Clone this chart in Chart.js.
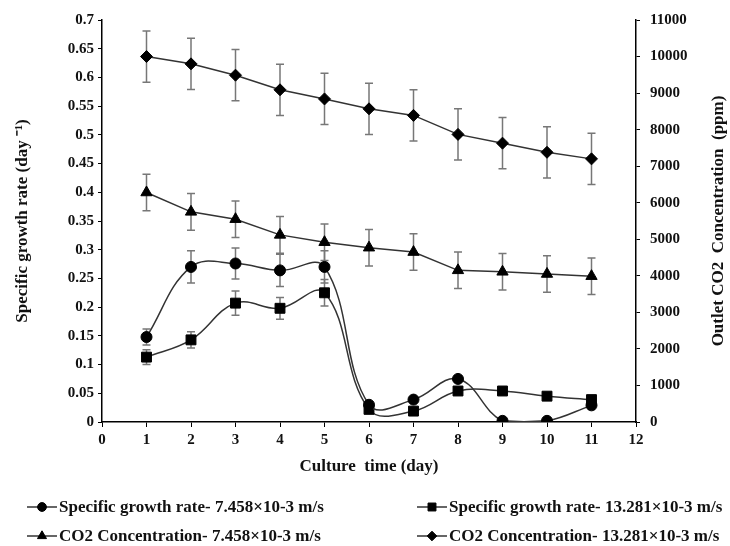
<!DOCTYPE html>
<html>
<head>
<meta charset="utf-8">
<script src="https://cdn.jsdelivr.net/npm/chart.js@4.4.1/dist/chart.umd.min.js"></script>
<style>
  body { margin: 0; background: #fff; }
  #wrap { width: 730px; height: 546px; }
</style>
</head>
<body>
<div id="wrap"><canvas id="growthChart" width="730" height="546"></canvas></div>
<script>
// culture days
const days = [1, 2, 3, 4, 5, 6, 7, 8, 9, 10, 11];

// specific growth rate (day -1)
const growthLow = [0.148, 0.270, 0.276, 0.264, 0.270, 0.030, 0.039, 0.075, 0.002, 0.002, 0.029];
const growthLowErr = [0.014, 0.028, 0.027, 0.028, 0.028, 0, 0, 0, 0, 0, 0];
const growthHigh = [0.113, 0.143, 0.207, 0.198, 0.225, 0.022, 0.019, 0.054, 0.054, 0.045, 0.039];
const growthHighErr = [0.013, 0.014, 0.021, 0.019, 0.023, 0, 0, 0, 0, 0, 0];

// outlet CO2 (ppm)
const co2Low = [6280, 5750, 5550, 5120, 4920, 4770, 4650, 4150, 4110, 4050, 3990];
const co2LowErr = [500, 500, 500, 500, 500, 500, 500, 500, 500, 500, 500];
const co2High = [10000, 9800, 9490, 9090, 8840, 8570, 8390, 7870, 7630, 7380, 7200];
const co2HighErr = [700, 700, 700, 700, 700, 700, 700, 700, 700, 700, 700];

const seriesLabels = [
    "Specific growth rate- 7.458\u00d710-3 m/s",
    "Specific growth rate- 13.281\u00d710-3 m/s",
    "CO2 Concentration- 7.458\u00d710-3 m/s",
    "CO2 Concentration- 13.281\u00d710-3 m/s"
];

const serif = "'Liberation Serif', 'Times New Roman', serif";
const lineColor = "#333";

function toPoints(values) {
    return days.map((d, i) => ({ x: d, y: values[i] }));
}

// error bars drawn under the markers
const errorBars = {
    id: "errorBars",
    beforeDatasetsDraw(chart) {
        const ctx = chart.ctx;
        ctx.save();
        ctx.strokeStyle = "#777";
        ctx.lineWidth = 1.5;
        chart.data.datasets.forEach((ds, i) => {
            if (!ds.errors) return;
            const meta = chart.getDatasetMeta(i);
            const scale = chart.scales[ds.yAxisID];
            meta.data.forEach((pt, j) => {
                const e = ds.errors[j];
                if (!e) return;
                const v = ds.data[j].y;
                const top = scale.getPixelForValue(v + e);
                const bot = scale.getPixelForValue(v - e);
                ctx.beginPath();
                ctx.moveTo(pt.x, top); ctx.lineTo(pt.x, bot);
                ctx.moveTo(pt.x - 4, top); ctx.lineTo(pt.x + 4, top);
                ctx.moveTo(pt.x - 4, bot); ctx.lineTo(pt.x + 4, bot);
                ctx.stroke();
            });
        });
        ctx.restore();
    }
};

// right title (reads upward) and two-column legend
const extras = {
    id: "extras",
    afterDraw(chart) {
        const ctx = chart.ctx;
        const area = chart.chartArea;
        ctx.save();
        ctx.fillStyle = "#111";
        ctx.font = "bold 17px " + serif;
        ctx.textAlign = "center";
        ctx.textBaseline = "middle";
        ctx.translate(719, (area.top + area.bottom) / 2);
        ctx.rotate(-Math.PI / 2);
        ctx.fillText("Outlet CO2  Concentration  (ppm)", 0, 0);
        ctx.restore();

        const slots = [[27, 507], [417, 507], [27, 536], [417, 536]];
        ctx.save();
        ctx.font = "bold 17px " + serif;
        ctx.textBaseline = "middle";
        ctx.textAlign = "left";
        chart.data.datasets.forEach((ds, i) => {
            const [x, y] = slots[i];
            ctx.strokeStyle = lineColor;
            ctx.lineWidth = 1.5;
            ctx.beginPath();
            ctx.moveTo(x, y); ctx.lineTo(x + 30, y);
            ctx.stroke();
            ctx.fillStyle = "#000";
            ctx.strokeStyle = "#000";
            ctx.lineWidth = 1;
            Chart.helpers.drawPoint(ctx, {
                pointStyle: ds.pointStyle,
                radius: ds.pointRadius * 0.8,
                rotation: 0,
                borderWidth: 1
            }, x + 15, y);
            ctx.fillStyle = "#111";
            ctx.fillText(seriesLabels[i], x + 32, y + 1);
        });
        ctx.restore();
    }
};

const tickFont = { family: serif, size: 15, weight: "bold" };
const titleFont = { family: serif, size: 17, weight: "bold" };

new Chart(document.getElementById("growthChart"), {
    type: "line",
    data: {
        datasets: [{
            label: seriesLabels[0],
            data: toPoints(growthLow),
            errors: growthLowErr,
            yAxisID: "y",
            pointStyle: "circle",
            pointRadius: 5.5,
            tension: 0.4
        }, {
            label: seriesLabels[1],
            data: toPoints(growthHigh),
            errors: growthHighErr,
            yAxisID: "y",
            pointStyle: "rect",
            pointRadius: 7,
            tension: 0.4
        }, {
            label: seriesLabels[2],
            data: toPoints(co2Low),
            errors: co2LowErr,
            yAxisID: "y1",
            pointStyle: "triangle",
            pointRadius: 6.5,
            tension: 0
        }, {
            label: seriesLabels[3],
            data: toPoints(co2High),
            errors: co2HighErr,
            yAxisID: "y1",
            pointStyle: "rectRot",
            pointRadius: 6,
            tension: 0
        }].map(ds => Object.assign(ds, {
            borderColor: lineColor,
            borderWidth: 1.5,
            pointBackgroundColor: "#000",
            pointBorderColor: "#000",
            pointBorderWidth: 1,
            fill: false
        }))
    },
    options: {
        responsive: false,
        animation: false,
        layout: { padding: { top: 20, bottom: 64, left: 0, right: 0 } },
        plugins: {
            legend: { display: false },
            tooltip: { enabled: false }
        },
        scales: {
            x: {
                type: "linear",
                min: 0,
                max: 12,
                ticks: { stepSize: 1, color: "#111", font: tickFont, padding: 4 },
                grid: { drawOnChartArea: false, tickLength: 5, color: "#000" },
                border: { color: "#000", width: 1.5 },
                title: {
                    display: true,
                    text: "Culture  time (day)",
                    color: "#111",
                    font: titleFont,
                    padding: { top: 0, bottom: 5 }
                },
                afterFit(scale) { scale.height = 60; }
            },
            y: {
                position: "left",
                min: 0,
                max: 0.7,
                ticks: {
                    stepSize: 0.05,
                    color: "#111",
                    font: tickFont,
                    padding: 4,
                    callback: v => String(+v.toFixed(2))
                },
                grid: { drawOnChartArea: false, tickLength: 4, color: "#000" },
                border: { color: "#000", width: 1.5 },
                title: {
                    display: true,
                    text: "Specific growth rate (day \u207b\u00b9)",
                    color: "#111",
                    font: titleFont,
                    padding: { top: 12, bottom: 0 }
                },
                afterFit(scale) { scale.width = 102; }
            },
            y1: {
                position: "right",
                min: 0,
                max: 11000,
                ticks: {
                    stepSize: 1000,
                    color: "#111",
                    font: tickFont,
                    padding: 10,
                    callback: v => String(v)
                },
                grid: { drawOnChartArea: false, tickLength: 4, color: "#000" },
                border: { color: "#000", width: 1.5 },
                afterFit(scale) { scale.width = 94; }
            }
        }
    },
    plugins: [errorBars, extras]
});
</script>
</body>
</html>
